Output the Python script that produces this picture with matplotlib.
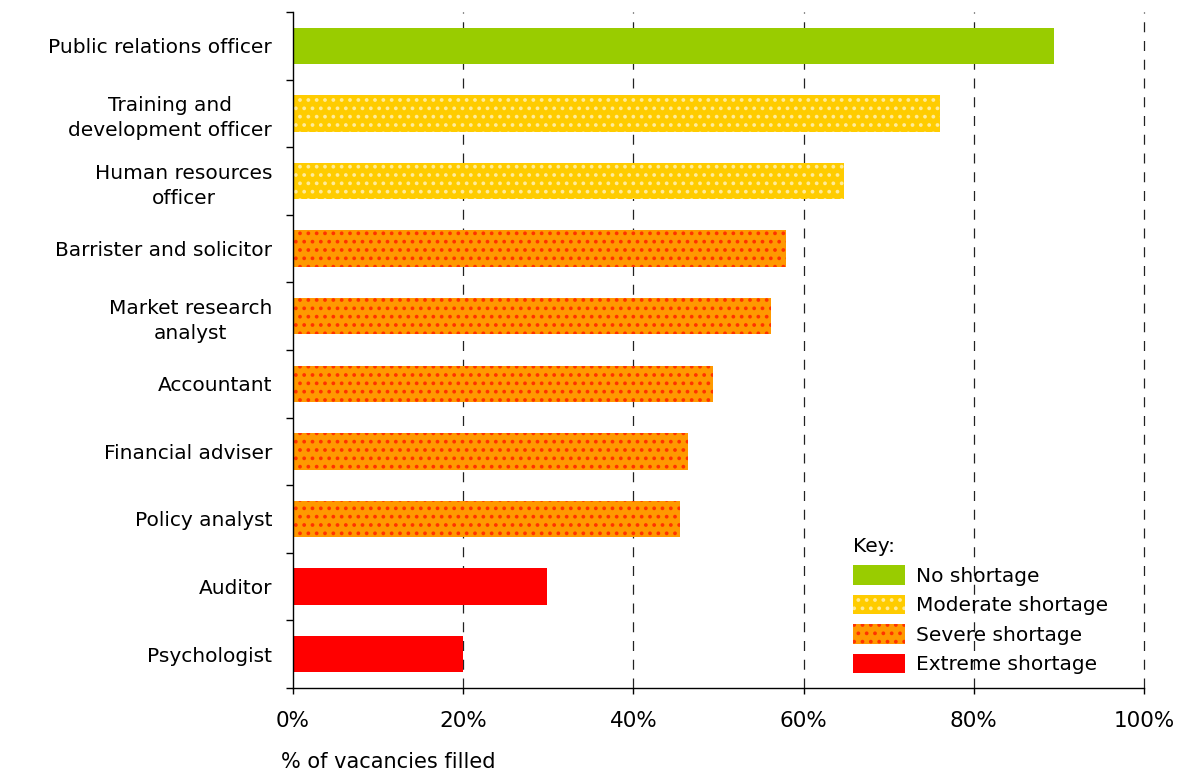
import matplotlib.pyplot as plt
from matplotlib.patches import Patch
from matplotlib.ticker import FixedLocator, PercentFormatter

occupations = [
    "Public relations officer",
    "Training and\ndevelopment officer",
    "Human resources\nofficer",
    "Barrister and solicitor",
    "Market research\nanalyst",
    "Accountant",
    "Financial adviser",
    "Policy analyst",
    "Auditor",
    "Psychologist",
]
filled = [89.4, 76.0, 64.7, 57.9, 56.2, 49.4, 46.4, 45.5, 29.8, 20.0]
shortage = ["none", "moderate", "moderate", "severe", "severe",
            "severe", "severe", "severe", "extreme", "extreme"]

key_labels = ["No shortage", "Moderate shortage", "Severe shortage", "Extreme shortage"]
styles = {
    "none": dict(facecolor="#99cc00", edgecolor="#99cc00", hatch=None),
    "moderate": dict(facecolor="#ffcc00", edgecolor="#ffeb99", hatch=".."),
    "severe": dict(facecolor="#ff9900", edgecolor="#ff3300", hatch=".."),
    "extreme": dict(facecolor="#ff0000", edgecolor="#ff0000", hatch=None),
}

plt.rcParams["font.family"] = "DejaVu Sans"
plt.rcParams["hatch.linewidth"] = 1.5

fig = plt.figure(figsize=(11.89, 7.74), dpi=100)
ax = fig.add_axes([293 / 1189, 1 - 688 / 774, (1144 - 293) / 1189, (688 - 12) / 774])

ypos = list(range(len(occupations)))
for y, val, s in zip(ypos, filled, shortage):
    st = styles[s]
    ax.barh(y, val, height=0.54, facecolor=st["facecolor"], edgecolor=st["edgecolor"],
            hatch=st["hatch"], linewidth=0, zorder=2)

ax.set_xlim(0, 100)
ax.set_ylim(len(occupations) - 0.5, -0.5)

ax.xaxis.set_major_locator(FixedLocator([0, 20, 40, 60, 80, 100]))
ax.xaxis.set_major_formatter(PercentFormatter(decimals=0))
ax.tick_params(axis="x", direction="out", length=4.5, width=1, pad=12, labelsize=15.5)
for x in [20, 40, 60, 80, 100]:
    ax.axvline(x, color="#222222", linestyle=(0, (8, 7)), linewidth=0.9, zorder=1,
               clip_on=False)

# category boundaries get tick marks, centres get the labels
ax.yaxis.set_major_locator(FixedLocator([i - 0.5 for i in range(len(occupations) + 1)]))
ax.yaxis.set_major_formatter(plt.NullFormatter())
ax.yaxis.set_minor_locator(FixedLocator(ypos))
ax.set_yticklabels(occupations, minor=True)
ax.tick_params(axis="y", which="major", direction="out", length=5, width=1)
ax.tick_params(axis="y", which="minor", length=0, pad=15, labelsize=14.5)
for lbl in ax.get_yticklabels(minor=True):
    lbl.set_multialignment("center")
    lbl.set_linespacing(1.4)

for side in ["top", "right"]:
    ax.spines[side].set_visible(False)
ax.spines["left"].set_linewidth(1)
ax.spines["bottom"].set_linewidth(1)

fig.text(281 / 1189, 1 - 762 / 774, "% of vacancies filled", fontsize=15,
         ha="left", va="center")

handles = [Patch(**styles[k], linewidth=0) for k in ["none", "moderate", "severe", "extreme"]]
leg = ax.legend(handles, key_labels, title="Key:", loc="upper left",
                bbox_to_anchor=(837 / 1189, 1 - 521 / 774), bbox_transform=fig.transFigure,
                frameon=False, fontsize=14.5, title_fontsize=14.5, handlelength=2.6,
                handleheight=1.1, handletextpad=0.5, labelspacing=0.45, alignment="left",
                borderpad=0.3)

fig.savefig("out.png", dpi=100)
